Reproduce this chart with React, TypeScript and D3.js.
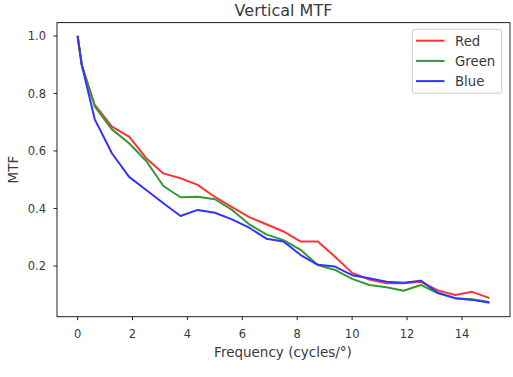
import React from "react";
import * as d3 from "d3";

const freqs = [0, 0.15, 0.625, 1.25, 1.875, 2.5, 3.125, 3.75, 4.375, 5.0, 5.625, 6.25, 6.875, 7.5, 8.125, 8.75, 9.375, 10.0, 10.625, 11.25, 11.875, 12.5, 13.125, 13.75, 14.375, 15.0];
const redValues = [1.0, 0.9, 0.76, 0.685, 0.65, 0.575, 0.522, 0.505, 0.482, 0.44, 0.405, 0.37, 0.345, 0.32, 0.285, 0.285, 0.232, 0.176, 0.153, 0.14, 0.14, 0.145, 0.115, 0.099, 0.11, 0.088];
const greenValues = [1.0, 0.9, 0.755, 0.675, 0.627, 0.565, 0.478, 0.439, 0.441, 0.432, 0.395, 0.345, 0.31, 0.29, 0.256, 0.203, 0.186, 0.155, 0.134, 0.126, 0.114, 0.134, 0.105, 0.088, 0.084, 0.075];
const blueValues = [1.0, 0.9, 0.71, 0.592, 0.51, 0.464, 0.418, 0.374, 0.395, 0.385, 0.362, 0.333, 0.295, 0.285, 0.238, 0.204, 0.198, 0.168, 0.157, 0.145, 0.142, 0.149, 0.107, 0.088, 0.082, 0.072];
const seriesNames = ["Red", "Green", "Blue"];
const seriesColors = ["rgb(255,51,51)", "rgb(51,153,51)", "rgb(51,51,255)"];
const xTicks = [0, 2, 4, 6, 8, 10, 12, 14];
const yTicks = [0.2, 0.4, 0.6, 0.8, 1.0];

const W = 513, H = 377;
const L = 57, R = 510, T = 22.6, B = 316.7;
const FONT = "DejaVu Sans, sans-serif";
const TXT = "#3a3a3a";

export default function App() {
  const x = d3.scaleLinear().domain([-0.75, 15.75]).range([L, R]);
  const y = d3.scaleLinear().domain([0.0235, 1.0465]).range([B, T]);
  const line = d3.line<number>().x((_, i) => x(freqs[i])).y((v) => y(v));
  const series = [redValues, greenValues, blueValues];

  return (
    <svg width={W} height={H} style={{ position: "absolute", left: 0, top: 0, background: "#fff" }} fontFamily={FONT}>
      <rect x={0} y={0} width={W} height={H} fill="#fff" />
      <text x={(L + R) / 2} y={15.5} textAnchor="middle" fontSize={16} fill={TXT}>Vertical MTF</text>
      {series.map((s, k) => (
        <path key={k} d={line(s) || ""} fill="none" stroke={seriesColors[k]} strokeWidth={2} strokeLinejoin="round" />
      ))}
      <rect x={L} y={T} width={R - L} height={B - T} fill="none" stroke="#222" strokeWidth={1} />
      {xTicks.map((t) => (
        <g key={t}>
          <line x1={x(t)} x2={x(t)} y1={B} y2={B + 3.5} stroke="#222" />
          <text x={x(t)} y={338} textAnchor="middle" fontSize={11.5} fill={TXT}>{t}</text>
        </g>
      ))}
      {yTicks.map((t) => (
        <g key={t}>
          <line x1={L - 3.5} x2={L} y1={y(t)} y2={y(t)} stroke="#222" />
          <text x={L - 11} y={y(t) + 4.2} textAnchor="end" fontSize={11.5} fill={TXT}>{t.toFixed(1)}</text>
        </g>
      ))}
      <text x={(L + R) / 2 - 0.5} y={357} textAnchor="middle" fontSize={13.5} fill={TXT}>Frequency (cycles/°)</text>
      <text transform={`translate(17.5,${(T + B) / 2}) rotate(-90)`} textAnchor="middle" fontSize={13.5} fill={TXT}>MTF</text>
      <rect x={412.3} y={29.3} width={89.4} height={64} rx={2.5} fill="#fff" fillOpacity={0.8} stroke="#ccc" strokeWidth={1} />
      {seriesNames.map((n, k) => (
        <g key={n}>
          <line x1={416} x2={444.5} y1={40.7 + k * 20.2} y2={40.7 + k * 20.2} stroke={seriesColors[k]} strokeWidth={2} />
          <text x={455} y={40.7 + k * 20.2 + 4.8} fontSize={13.3} fill={TXT}>{n}</text>
        </g>
      ))}
    </svg>
  );
}
